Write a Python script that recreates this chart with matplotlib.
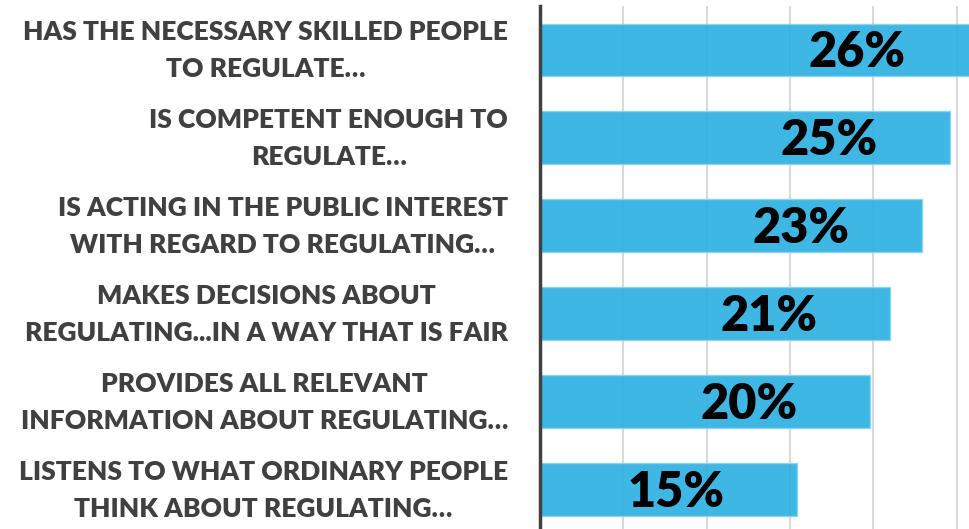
import numpy as np
import matplotlib.pyplot as plt

# data (top to bottom)
categories = [
    "HAS THE NECESSARY SKILLED PEOPLE\nTO REGULATE…",
    "IS COMPETENT ENOUGH TO\nREGULATE…",
    "IS ACTING IN THE PUBLIC INTEREST\nWITH REGARD TO REGULATING…",
    "MAKES DECISIONS ABOUT\nREGULATING...IN A WAY THAT IS FAIR",
    "PROVIDES ALL RELEVANT\nINFORMATION ABOUT REGULATING…",
    "LISTENS TO WHAT ORDINARY PEOPLE\nTHINK ABOUT REGULATING…",
]
values = [26.3, 24.6, 22.9, 21.0, 19.8, 15.4]
value_labels = ["26%", "25%", "23%", "21%", "20%", "15%"]
grid_ticks = [5, 10, 15, 20, 25]

plt.rcParams['font.family'] = ['Lato', 'DejaVu Sans']

W, H = 969, 529
fig = plt.figure(figsize=(W / 100, H / 100), dpi=100)
fig.patch.set_facecolor('white')

# axes in pixels: left edge 540, 16.67 px per %, category pitch ~87.9 px
xmax = 27
left = 540 / W
width = xmax * 16.67 / W
pitch = 87.9
height = 6 * pitch / H
bottom = (H - 6 - 6 * pitch) / H
ax = fig.add_axes([left, bottom, width, height])

y = np.arange(len(categories))
ax.barh(y, values, height=0.6, color='#2ab0e3', alpha=0.9,
        edgecolor='#8fd3ef', linewidth=1, zorder=2)

ax.set_xlim(0, xmax)
ax.set_ylim(len(categories) - 0.5, -0.5)
ax.set_xticks(grid_ticks)
ax.set_xticklabels([])
ax.set_yticks(y)
ax.set_yticklabels([])
ax.grid(axis='x', color='#d9d9d9', linewidth=1.5, zorder=0)
ax.set_axisbelow(True)
ax.tick_params(length=0)

for s in ['top', 'right', 'bottom']:
    ax.spines[s].set_visible(False)
ax.spines['left'].set_color('#404040')
ax.spines['left'].set_linewidth(2.5)
ax.spines['left'].set_zorder(3)

# category labels, right aligned left of the axis, lines centred
for yi, cat in zip(y, categories):
    ax.annotate(cat, xy=(0, yi), xycoords=('axes fraction', 'data'),
                xytext=(-32, -1), textcoords='offset pixels',
                ha='right', va='center', multialignment='center',
                fontsize=19, fontweight='heavy', color='#404040',
                linespacing=1.65, annotation_clip=False)

for yi, v, lab in zip(y, values, value_labels):
    ax.annotate(lab, xy=(v, yi), xytext=(-121, -17.5), textcoords='offset pixels',
                ha='center', va='baseline', fontsize=35, fontweight='heavy',
                color='black', zorder=4)

fig.savefig('out.png', dpi=100)
